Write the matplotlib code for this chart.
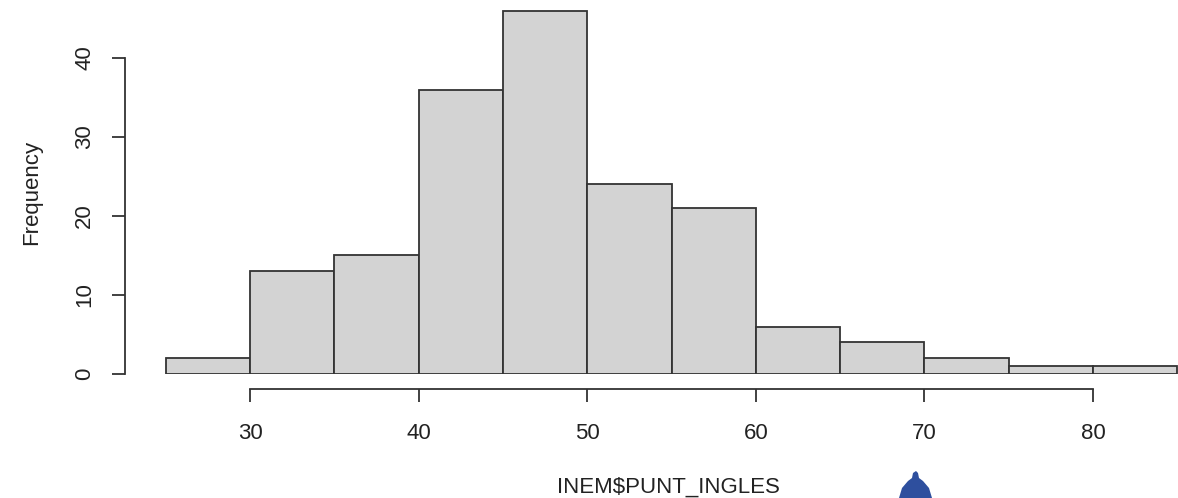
import matplotlib
matplotlib.use("Agg")
import matplotlib.pyplot as plt
import numpy as np
from matplotlib.patches import Polygon

# Data
bin_edges = [25, 30, 35, 40, 45, 50, 55, 60, 65, 70, 75, 80, 85]
counts = [2, 13, 15, 36, 46, 24, 21, 6, 4, 2, 1, 1]
x_ticks = [30, 40, 50, 60, 70, 80]
y_ticks = [0, 10, 20, 30, 40]
x_label = "INEM$PUNT_INGLES"
y_label = "Frequency"

W, H = 1178, 498
plt.rcParams['font.family'] = ['Liberation Sans', 'DejaVu Sans']
fig = plt.figure(figsize=(W / 100, H / 100), dpi=100)
fig.patch.set_facecolor('white')

# axes geometry in pixels
left_px, right_px = 125, 1178
top_px, bottom_px = 0, 374
ax = fig.add_axes([left_px / W, (H - bottom_px) / H,
                   (right_px - left_px) / W, (bottom_px - top_px) / H])

px_per_unit_x = (1093 - 250) / 50.0
px_per_unit_y = (374 - 58) / 40.0
xmin = 30 - (250 - left_px) / px_per_unit_x
xmax = 30 + (right_px - 250) / px_per_unit_x
ymax = (bottom_px - top_px) / px_per_unit_y
ax.set_xlim(xmin, xmax)
ax.set_ylim(0, ymax)

edges = np.array(bin_edges, dtype=float)
ax.bar(edges[:-1], counts, width=np.diff(edges), align='edge',
       color='#D3D3D3', edgecolor='#333333', linewidth=1.3)

txt = '#222222'
for s in ['top', 'right']:
    ax.spines[s].set_visible(False)
ax.spines['left'].set_bounds(y_ticks[0], y_ticks[-1])
ax.spines['bottom'].set_bounds(x_ticks[0], x_ticks[-1])
ax.spines['bottom'].set_position(('outward', 10.5))
for s in ['left', 'bottom']:
    ax.spines[s].set_color('#333333')
    ax.spines[s].set_linewidth(1.3)

ax.set_xticks(x_ticks)
ax.set_yticks(y_ticks)
ax.tick_params(axis='both', direction='out', length=9.5, width=1.3,
               color='#333333', labelcolor=txt, labelsize=16)
ax.tick_params(axis='x', pad=15)
ax.tick_params(axis='y', pad=12)
for lab in ax.get_yticklabels():
    lab.set_rotation(90)
    lab.set_va('center')

fig.text(32 / W, 1 - 192 / H, y_label, rotation=90, ha='center', va='center',
         fontsize=16, color=txt)
fig.text(668 / W, 1 - 487 / H, x_label, ha='center', va='center',
         fontsize=16, color=txt)

# blue drop-shaped overlay at the bottom
poly_pts = [(899, 498), (902, 488), (908, 481), (912, 478), (913, 473),
            (916, 471), (918, 473), (919, 478), (923, 481), (929, 488), (932, 498)]
fig.patches.append(Polygon([(x / W, 1 - y / H) for x, y in poly_pts], closed=True,
                           transform=fig.transFigure, facecolor='#2E4F9E',
                           edgecolor='none'))

fig.savefig('out.png', dpi=100, facecolor='white')
